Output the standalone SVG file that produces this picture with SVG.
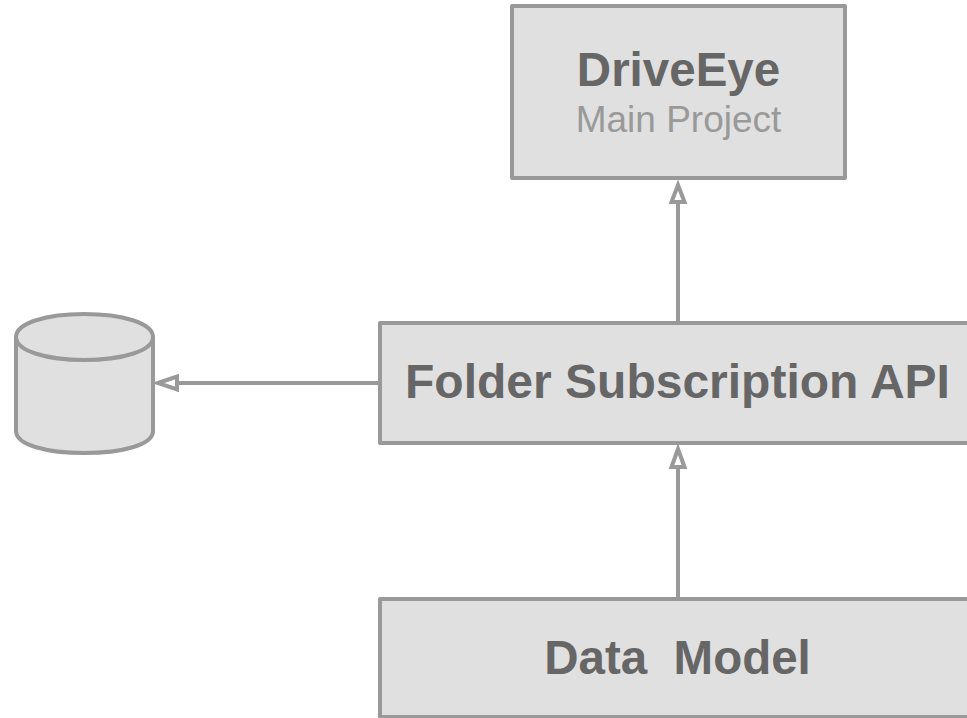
<svg xmlns="http://www.w3.org/2000/svg" width="967" height="718" viewBox="0 0 967 718">
<style>
.box{fill:#e0e0e0;stroke:#999;stroke-width:4;stroke-linejoin:round}
.t{font-family:"Liberation Sans",Arial,sans-serif;text-anchor:middle}
.b{font-weight:700;font-size:47.500px;fill:#666}
.s{font-size:37px;fill:#999}
.c{fill:none;stroke:#999;stroke-width:4}
.h{fill:#fff;stroke:#999;stroke-width:4}
</style>
<rect width="967" height="718" fill="#fff"/>
<g id="connectors">
<line class="c" x1="678" y1="322" x2="678" y2="202"/>
<polygon class="h" points="678,185 684.500,202 671.500,202"/>
<line class="c" x1="380" y1="383" x2="177" y2="383"/>
<polygon class="h" points="158,383 177,376.500 177,389.500"/>
<line class="c" x1="678" y1="598" x2="678" y2="467"/>
<polygon class="h" points="678,449 684.500,467 671.500,467"/>
</g>
<g id="driveeye">
<rect class="box" x="512" y="6" width="333" height="172"/>
<text class="t b" x="678.500" y="86">DriveEye</text>
<text class="t s" x="678.500" y="132">Main Project</text>
</g>
<g id="database">
<path class="box" d="M16 337C16 323 47 314 84 314C122 314 153 323 153 337V431C153 445 122 453 84 453C47 453 16 445 16 431Z"/>
<path class="c" d="M16 337C16 351 47 360 84 360C122 360 153 351 153 337"/>
</g>
<g id="folder-subscription-api">
<rect class="box" x="380" y="323" width="592" height="120"/>
<text class="t b" x="677.500" y="398" style="font-size:48px">Folder Subscription API</text>
</g>
<g id="data-model">
<rect class="box" x="380" y="599" width="592" height="118"/>
<text class="t b" x="677.500" y="674" xml:space="preserve">Data  Model</text>
</g>
</svg>
